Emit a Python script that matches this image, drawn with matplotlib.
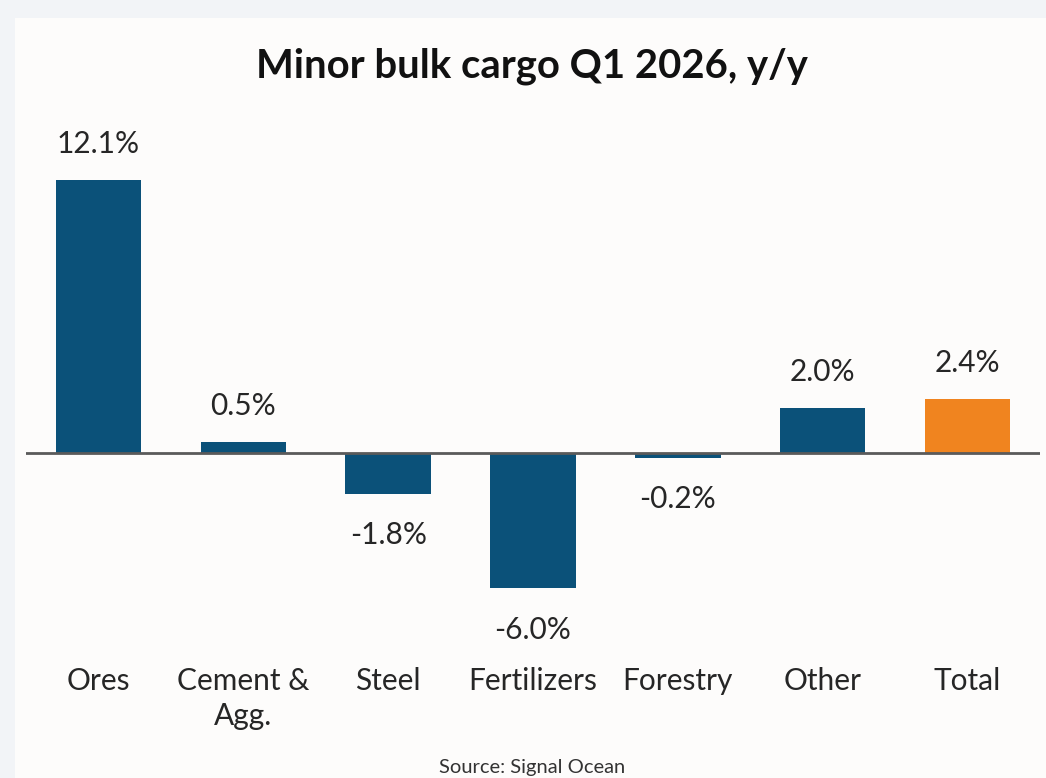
import matplotlib
matplotlib.use("Agg")
import matplotlib.pyplot as plt
from matplotlib.patches import Rectangle

categories = ["Ores", "Cement &\nAgg.", "Steel", "Fertilizers", "Forestry", "Other", "Total"]
values = [12.1, 0.5, -1.8, -6.0, -0.2, 2.0, 2.4]
labels = ["12.1%", "0.5%", "-1.8%", "-6.0%", "-0.2%", "2.0%", "2.4%"]

blue = "#0b5179"
orange = "#f0841f"
colors = [blue] * 6 + [orange]

plt.rcParams["font.family"] = ["Lato", "DejaVu Sans"]

W, H = 1046, 778
fig = plt.figure(figsize=(W / 100, H / 100), dpi=100)
fig.patch.set_facecolor("#f2f4f7")
fig.patches.append(Rectangle((15 / W, 0), 1, 1 - 18 / H, transform=fig.transFigure,
                             facecolor="#fdfcfb", edgecolor="none", zorder=-5))

# axes placed in pixels: baseline at y=453, 22.56 px per %
ymin, ymax = -7, 13
ppu = 22.56
top = 453 - ymax * ppu
bot = 453 - ymin * ppu
ax = fig.add_axes([26 / W, 1 - bot / H, (1040 - 26) / W, (bot - top) / H])
ax.set_facecolor("none")

x = list(range(len(categories)))
ax.bar(x, values, width=0.59, color=colors, zorder=2)
ax.axhline(0, color="#5a5a5a", lw=2, zorder=3)
ax.set_xlim(-0.5, 6.5)
ax.set_ylim(ymin, ymax)

for xi, v, lab in zip(x, values, labels):
    off = 26 if v >= 0 else -30
    ax.annotate(lab, (xi, v), xytext=(0, off), textcoords="offset points",
                ha="center", va="center", fontsize=21.5, color="#262626")

for s in ax.spines.values():
    s.set_visible(False)
ax.set_yticks([])
ax.set_xticks(x)
ax.set_xticklabels(categories, fontsize=21.5, color="#262626", linespacing=1.32)
ax.tick_params(axis="x", length=0, pad=0)
# move the tick labels down to y=667 px
trans_off = matplotlib.transforms.ScaledTranslation(0, -(667 - bot) / 100, fig.dpi_scale_trans)
for t in ax.get_xticklabels():
    t.set_transform(t.get_transform() + trans_off)

fig.text(532 / W, 1 - 66 / H, "Minor bulk cargo Q1 2026, y/y", ha="center", va="center",
         fontsize=28.8, fontweight="bold", color="#111111")
fig.text(532 / W, 1 - 768 / H, "Source: Signal Ocean", ha="center", va="center",
         fontsize=14.5, color="#333333")

fig.savefig("out.png", dpi=100, facecolor=fig.get_facecolor())
